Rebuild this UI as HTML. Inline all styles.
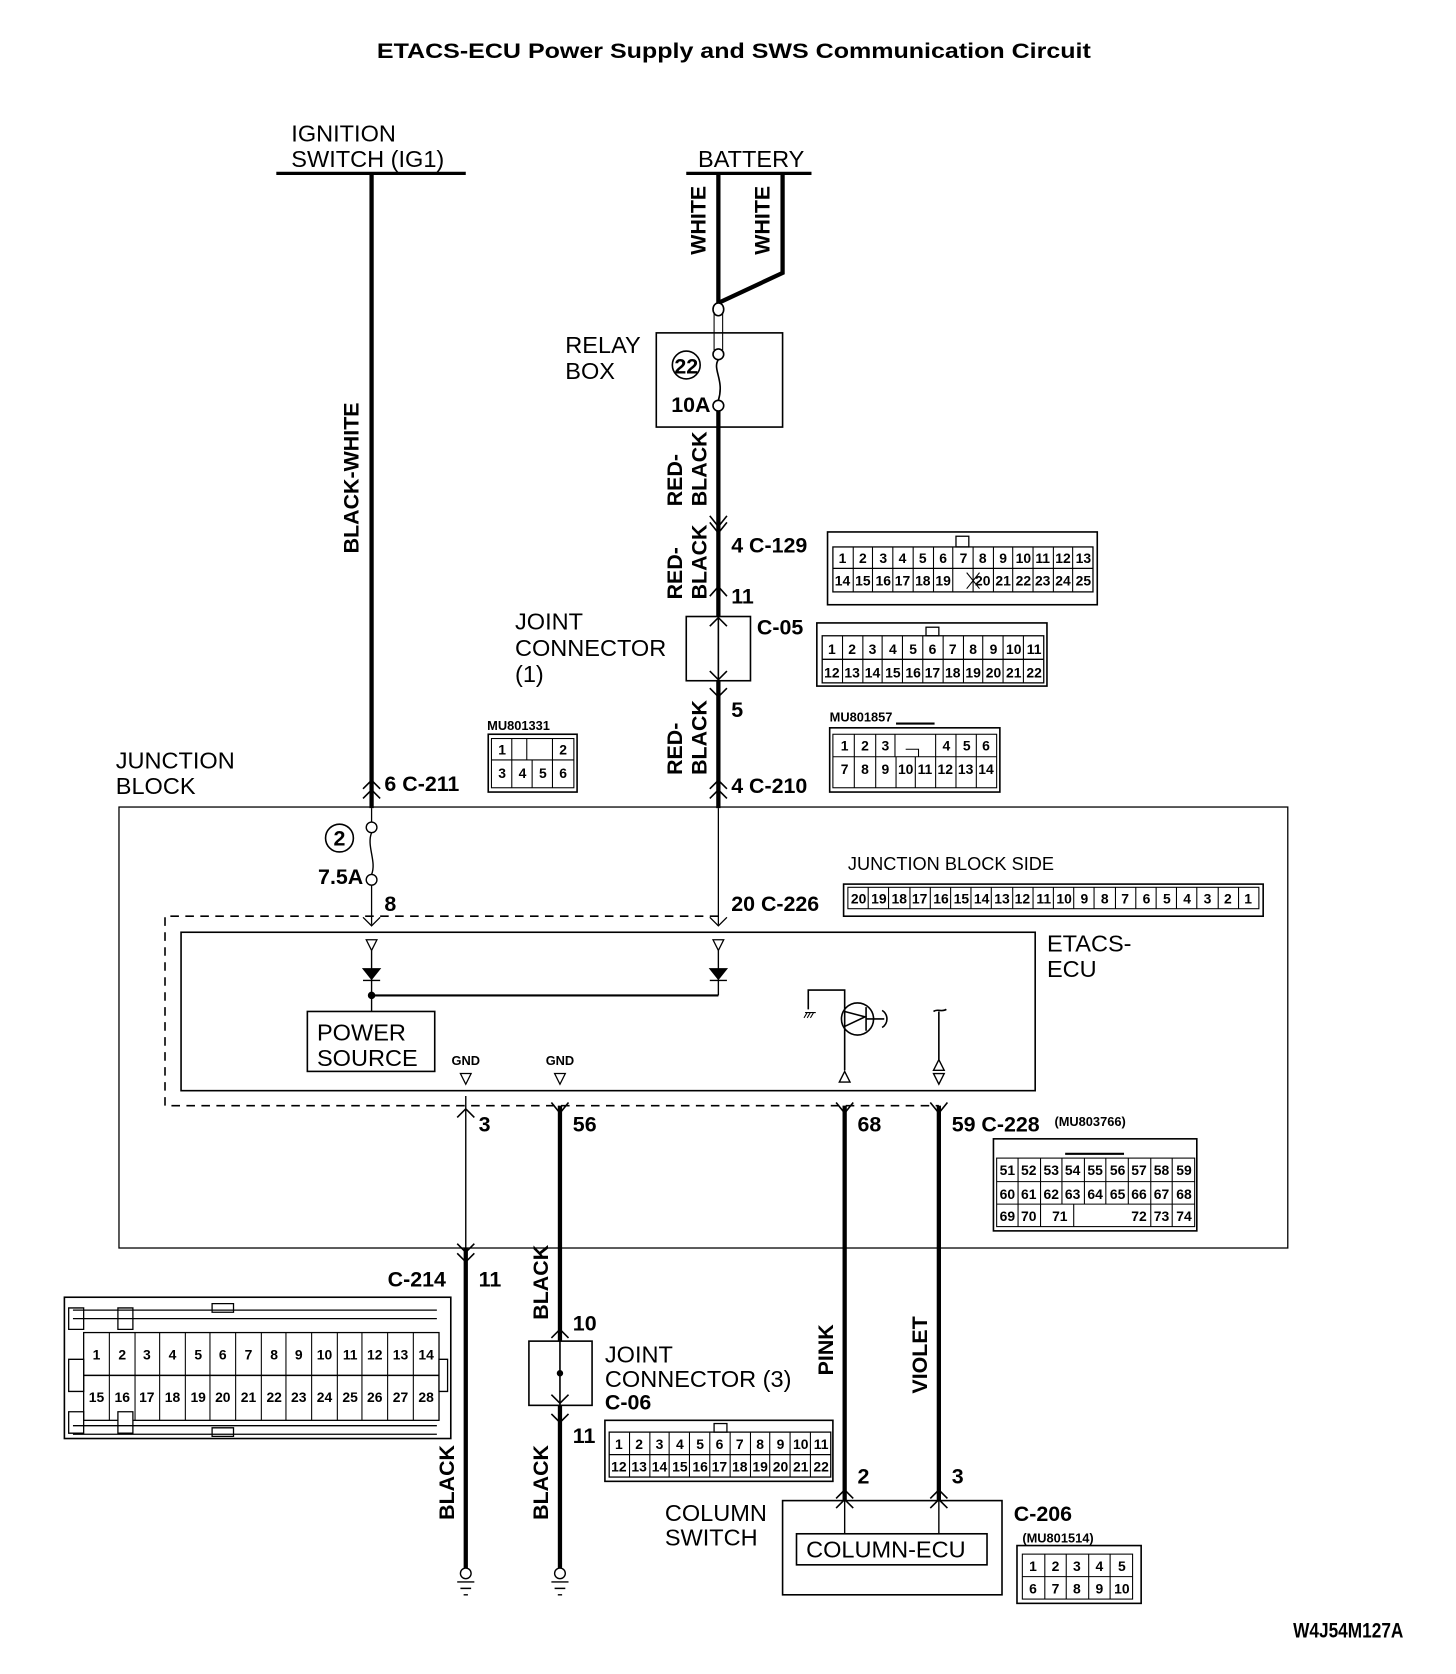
<!DOCTYPE html>
<html><head><meta charset="utf-8"><style>
html,body{margin:0;padding:0;background:#fff}
svg{display:block}
text{font-family:"Liberation Sans",sans-serif;fill:#000}
.l{font-size:22px}
.b{font-size:20px;font-weight:bold}
.n{font-size:13px;font-weight:bold;text-anchor:middle}
.s{font-size:12px;font-weight:bold}
</style></head><body>
<svg width="1456" height="1674" viewBox="0 0 1360 1564" xmlns="http://www.w3.org/2000/svg">
<g fill="none" stroke="#000">
<line x1="258" y1="162" x2="435" y2="162" stroke-width="3"/>
<line x1="641" y1="162" x2="758" y2="162" stroke-width="3"/>
<line x1="347" y1="162" x2="347" y2="755" stroke-width="4"/>
<line x1="671" y1="162" x2="671" y2="285" stroke-width="4"/>
<polyline points="731,162 731,255 671,283" stroke-width="4"/>
<rect x="613" y="311" width="118" height="88" stroke-width="1.5"/>
<ellipse cx="671" cy="289" rx="5" ry="6" stroke-width="1.5" fill="#fff"/>
<line x1="667" y1="292" x2="667" y2="327" stroke-width="1"/>
<line x1="675" y1="292" x2="675" y2="327" stroke-width="1"/>
<circle cx="671" cy="331" r="5" stroke-width="1.5"/>
<path d="M671,336 C665,345 677,355 671,374" stroke-width="1.5"/>
<circle cx="671" cy="379" r="5" stroke-width="1.5"/>
<circle cx="641" cy="341" r="13" stroke-width="1.5"/>
<line x1="671" y1="384" x2="671" y2="755" stroke-width="4"/>
<path d="M663,482 L671,492 L679,482 M663,488 L671,498 L679,488" stroke-width="1.5"/>
<path d="M663,557 L671,548 L679,557" stroke-width="1.5"/>
<rect x="641" y="576" width="60" height="60" stroke-width="1.5" fill="#fff"/>
<line x1="671" y1="576" x2="671" y2="636" stroke-width="1.5"/>
<path d="M663,585 L671,577 L679,585 M663,627 L671,635 L679,627 M663,643 L671,651 L679,643" stroke-width="1.5"/>
<path d="M339,737 L347,729 L355,737 M339,746 L347,738 L355,746" stroke-width="1.5"/>
<path d="M663,737 L671,729 L679,737 M663,746 L671,738 L679,746" stroke-width="1.5"/>
<rect x="111" y="754" width="1092" height="412" stroke-width="1.2"/>
<line x1="347" y1="755" x2="347" y2="768" stroke-width="1.2"/>
<circle cx="347" cy="773" r="5" stroke-width="1.3"/>
<path d="M347,778 C342,790 352,805 347,817" stroke-width="1.3"/>
<circle cx="347" cy="822" r="5" stroke-width="1.3"/>
<line x1="347" y1="827" x2="347" y2="864" stroke-width="1.2"/>
<line x1="671" y1="755" x2="671" y2="864" stroke-width="1.2"/>
<path d="M339,857 L347,865 L355,857 M663,857 L671,865 L679,857" stroke-width="1.2"/>
<circle cx="317" cy="783" r="13" stroke-width="1.5"/>
<path d="M671,856 L154,856 L154,1033 L877,1033" stroke-width="1.5" stroke-dasharray="8,6"/>
<rect x="169" y="871" width="798" height="148" stroke-width="1.5"/>
<path d="M342,878 L352,878 L347,888 Z M666,878 L676,878 L671,888 Z" stroke-width="1.2"/>
<line x1="347" y1="888" x2="347" y2="945" stroke-width="1.3"/>
<line x1="671" y1="888" x2="671" y2="930" stroke-width="1.3"/>
<path d="M339,905 L355,905 L347,915 Z M663,905 L679,905 L671,915 Z" fill="#000" stroke-width="1"/>
<path d="M339,916 L355,916 M663,916 L679,916" stroke-width="1.2"/>
<line x1="347" y1="930" x2="671" y2="930" stroke-width="2"/>
<circle cx="347" cy="930" r="3" fill="#000"/>
<rect x="287" y="945" width="119" height="56" stroke-width="1.5"/>
<path d="M430,1003 L440,1003 L435,1013 Z M518,1003 L528,1003 L523,1013 Z" stroke-width="1.2"/>
<polyline points="755,943 755,925 789,925 789,1000" stroke-width="1.5"/>
<circle cx="801" cy="952" r="15" stroke-width="1.5"/>
<path d="M789,945 L808,950 L789,959 M809,941 L809,963 M809,952 L826,952 M824,944 C830,948 830,956 824,960" stroke-width="1.5"/>
<path d="M752,946 L762,946 M754,946 L751,951 M757,946 L754,951 M760,946 L757,951" stroke-width="1"/>
<path d="M784,1011 L794,1011 L789,1001 Z" stroke-width="1.3"/>
<path d="M872,945 C876,942 880,946 884,943 M877,945 L877,990" stroke-width="1.5"/>
<path d="M872,1000 L882,1000 L877,990 Z M872,1003 L882,1003 L877,1013 Z" stroke-width="1.3"/>
<line x1="435" y1="1024" x2="435" y2="1470" stroke-width="1.3"/>
<line x1="435" y1="1166" x2="435" y2="1470" stroke-width="4"/>
<line x1="523" y1="1033" x2="523" y2="1470" stroke-width="4"/>
<line x1="789" y1="1033" x2="789" y2="1402" stroke-width="4"/>
<line x1="877" y1="1033" x2="877" y2="1402" stroke-width="4"/>
<path d="M427,1044 L435,1036 L443,1044 M515,1030 L523,1040 L531,1030 M781,1030 L789,1040 L797,1030 M869,1030 L877,1040 L885,1030" stroke-width="1.5"/>
<path d="M427,1162 L435,1170 L443,1162 M427,1171 L435,1179 L443,1171" stroke-width="1.5"/>
<rect x="494" y="1253" width="59" height="60" stroke-width="1.5" fill="#fff"/>
<line x1="523" y1="1240" x2="523" y2="1330" stroke-width="1.5"/>
<circle cx="523" cy="1283" r="2.5" fill="#000"/>
<path d="M515,1250 L523,1242 L531,1250 M515,1303 L523,1311 L531,1303 M515,1321 L523,1329 L531,1321" stroke-width="1.5"/>
<path d="M781,1400 L789,1392 L797,1400 M781,1409 L789,1401 L797,1409 M869,1400 L877,1392 L885,1400 M869,1409 L877,1401 L885,1409" stroke-width="1.5"/>
<rect x="731" y="1402" width="205" height="88" stroke-width="1.5"/>
<rect x="744" y="1433" width="178" height="29" stroke-width="1.5"/>
<line x1="789" y1="1402" x2="789" y2="1433" stroke-width="1.3"/>
<line x1="877" y1="1402" x2="877" y2="1433" stroke-width="1.3"/>
<g stroke-width="1.3">
<circle cx="435" cy="1470" r="5" fill="#fff"/><path d="M427,1478 L443,1478 M430,1484 L440,1484 M433,1490 L437,1490"/>
<circle cx="523" cy="1470" r="5" fill="#fff"/><path d="M515,1478 L531,1478 M518,1484 L528,1484 M521,1490 L525,1490"/>
</g>
<rect x="773" y="497" width="252" height="68" stroke-width="1.5"/>
<rect x="778" y="511" width="243" height="42" stroke-width="1.2"/>
<line x1="778" y1="531" x2="1021" y2="531" stroke-width="1.2"/>
<rect x="893" y="501" width="12" height="10" stroke-width="1.2"/>
<path d="M797,511v42M815,511v42M834,511v42M853,511v42M872,511v42M890,511v42M909,511v42M928,511v42M946,511v42M965,511v42M984,511v42M1002,511v42" stroke-width="1"/>
<path d="M903,535 L915,550 M915,535 L903,550" stroke-width="1"/>
<rect x="763" y="582" width="215" height="59" stroke-width="1.5"/>
<rect x="768" y="594" width="207" height="44" stroke-width="1.2"/>
<line x1="768" y1="616" x2="975" y2="616" stroke-width="1.2"/>
<rect x="865" y="586" width="12" height="8" stroke-width="1.2"/>
<path d="M787,594v44M806,594v44M824,594v44M843,594v44M862,594v44M881,594v44M900,594v44M918,594v44M937,594v44M956,594v44" stroke-width="1"/>
<rect x="456" y="686" width="83" height="54" stroke-width="1.5"/>
<rect x="459" y="690" width="77" height="46" stroke-width="1"/>
<line x1="459" y1="710" x2="536" y2="710" stroke-width="1"/>
<path d="M478,690v46M497,710v26M516,690v46M492,690v20" stroke-width="1"/>
<rect x="775" y="680" width="159" height="60" stroke-width="1.5"/>
<rect x="778" y="686" width="153" height="50" stroke-width="1"/>
<line x1="778" y1="707" x2="931" y2="707" stroke-width="1"/>
<path d="M798,686v50M818,686v50M837,707v29M855,707v29M874,686v50M893,686v50M912,686v50M836,686v21M846,700h12v7" stroke-width="1"/>
<path d="M837,676h36" stroke-width="2"/>
<rect x="788" y="826" width="392" height="30" stroke-width="1.5"/>
<rect x="792" y="829" width="384" height="20" stroke-width="1"/>
<path d="M811,829v20M830,829v20M850,829v20M869,829v20M888,829v20M907,829v20M926,829v20M946,829v20M965,829v20M984,829v20M1003,829v20M1022,829v20M1042,829v20M1061,829v20M1080,829v20M1099,829v20M1118,829v20M1138,829v20M1157,829v20" stroke-width="1"/>
<rect x="928" y="1064" width="190" height="86" stroke-width="1.5"/>
<rect x="931" y="1082" width="185" height="64" stroke-width="1"/>
<path d="M931,1104h185M931,1125h185" stroke-width="1"/>
<path d="M951,1082v64M972,1082v64M992,1082v43M1013,1082v43M1033,1082v43M1054,1082v43M1075,1082v64M1095,1082v64M1003,1125v21" stroke-width="1"/>
<path d="M995,1078h55" stroke-width="2"/>
<rect x="60" y="1212" width="361" height="132" stroke-width="1.5"/>
<rect x="78" y="1245" width="332" height="82" stroke-width="1.2"/>
<line x1="78" y1="1285" x2="410" y2="1285" stroke-width="1.5"/>
<path d="M102,1245v82M126,1245v82M149,1245v82M173,1245v82M196,1245v82M220,1245v82M244,1245v82M267,1245v82M291,1245v82M315,1245v82M338,1245v82M362,1245v82M386,1245v82" stroke-width="1"/>
<path d="M68,1224h340M68,1232h340M68,1332h340M68,1340h340M64,1222h14v20h-14zM64,1270h14v30h-14zM64,1319h14v20h-14zM110,1222h14v20h-14zM110,1319h14v20h-14zM198,1218h20v8h-20zM198,1334h20v8h-20zM410,1270h8v30h-8z" stroke-width="1.2" fill="#fff"/>
<rect x="565" y="1327" width="213" height="57" stroke-width="1.5"/>
<rect x="569" y="1338" width="207" height="42" stroke-width="1.2"/>
<line x1="569" y1="1359" x2="776" y2="1359" stroke-width="1.2"/>
<rect x="667" y="1330" width="12" height="8" stroke-width="1.2"/>
<path d="M588,1338v42M607,1338v42M625,1338v42M644,1338v42M663,1338v42M682,1338v42M701,1338v42M719,1338v42M738,1338v42M757,1338v42" stroke-width="1"/>
<rect x="950" y="1444" width="116" height="54" stroke-width="1.5"/>
<rect x="955" y="1452" width="103" height="42" stroke-width="1"/>
<line x1="955" y1="1473" x2="1058" y2="1473" stroke-width="1"/>
<path d="M976,1452v42M996,1452v42M1017,1452v42M1037,1452v42" stroke-width="1"/>
</g>
<text x="352" y="54" class="b" font-size="22" textLength="667" lengthAdjust="spacingAndGlyphs">ETACS-ECU Power Supply and SWS Communication Circuit</text>
<text x="272" y="132" class="l">IGNITION</text>
<text x="272" y="156" class="l">SWITCH (IG1)</text>
<text x="652" y="156" class="l">BATTERY</text>
<text transform="translate(659,238) rotate(-90)" class="b">WHITE</text>
<text transform="translate(719,238) rotate(-90)" class="b">WHITE</text>
<text transform="translate(335,517) rotate(-90)" class="b">BLACK-WHITE</text>
<text x="528" y="330" class="l">RELAY</text>
<text x="528" y="354" class="l">BOX</text>
<text x="641" y="349" class="b" text-anchor="middle" font-size="18">22</text>
<text x="627" y="385" class="b" font-size="18">10A</text>
<text transform="translate(637,473) rotate(-90)" class="b">RED-</text>
<text transform="translate(660,473) rotate(-90)" class="b">BLACK</text>
<text transform="translate(637,560) rotate(-90)" class="b">RED-</text>
<text transform="translate(660,560) rotate(-90)" class="b">BLACK</text>
<text transform="translate(637,724) rotate(-90)" class="b">RED-</text>
<text transform="translate(660,724) rotate(-90)" class="b">BLACK</text>
<text x="683" y="516" class="b">4  C-129</text>
<text x="683" y="564" class="b">11</text>
<text x="707" y="593" class="b">C-05</text>
<text x="683" y="670" class="b">5</text>
<text x="683" y="741" class="b">4  C-210</text>
<text x="359" y="739" class="b">6  C-211</text>
<text x="481" y="588" class="l">JOINT</text>
<text x="481" y="613" class="l">CONNECTOR</text>
<text x="481" y="637" class="l">(1)</text>
<text x="108" y="718" class="l">JUNCTION</text>
<text x="108" y="742" class="l">BLOCK</text>
<text x="317" y="790" class="b" text-anchor="middle" font-size="18">2</text>
<text x="297" y="826" class="b" font-size="18">7.5A</text>
<text x="359" y="851" class="b">8</text>
<text x="683" y="851" class="b">20  C-226</text>
<text x="792" y="813" font-size="17">JUNCTION BLOCK SIDE</text>
<text x="978" y="889" class="l">ETACS-</text>
<text x="978" y="913" class="l">ECU</text>
<text x="296" y="972" class="l">POWER</text>
<text x="296" y="996" class="l">SOURCE</text>
<text x="435" y="995" class="s" text-anchor="middle" font-size="15">GND</text>
<text x="523" y="995" class="s" text-anchor="middle" font-size="15">GND</text>
<text x="447" y="1057" class="b">3</text>
<text x="535" y="1057" class="b">56</text>
<text x="801" y="1057" class="b">68</text>
<text x="889" y="1057" class="b">59  C-228</text>
<text x="985" y="1052" class="s">(MU803766)</text>
<text x="362" y="1202" class="b">C-214</text>
<text x="447" y="1202" class="b">11</text>
<text transform="translate(512,1233) rotate(-90)" class="b">BLACK</text>
<text transform="translate(424,1420) rotate(-90)" class="b">BLACK</text>
<text transform="translate(512,1420) rotate(-90)" class="b">BLACK</text>
<text transform="translate(778,1285) rotate(-90)" class="b">PINK</text>
<text transform="translate(866,1302) rotate(-90)" class="b">VIOLET</text>
<text x="535" y="1243" class="b">10</text>
<text x="535" y="1348" class="b">11</text>
<text x="565" y="1273" class="l">JOINT</text>
<text x="565" y="1296" class="l">CONNECTOR (3)</text>
<text x="565" y="1317" class="b">C-06</text>
<text x="801" y="1386" class="b">2</text>
<text x="889" y="1386" class="b">3</text>
<text x="621" y="1421" class="l">COLUMN</text>
<text x="621" y="1444" class="l">SWITCH</text>
<text x="753" y="1455" class="l">COLUMN-ECU</text>
<text x="947" y="1421" class="b">C-206</text>
<text x="955" y="1441" class="s">(MU801514)</text>
<text x="1208" y="1530" class="b" font-size="18" textLength="103" lengthAdjust="spacingAndGlyphs">W4J54M127A</text>
<text x="455" y="682" class="s">MU801331</text>
<text x="775" y="674" class="s">MU801857</text>
<g class="n">
<text x="787" y="526">1</text><text x="806" y="526">2</text><text x="825" y="526">3</text><text x="843" y="526">4</text><text x="862" y="526">5</text><text x="881" y="526">6</text><text x="900" y="526">7</text><text x="918" y="526">8</text><text x="937" y="526">9</text><text x="956" y="526">10</text><text x="974" y="526">11</text><text x="993" y="526">12</text><text x="1012" y="526">13</text>
<text x="787" y="547">14</text><text x="806" y="547">15</text><text x="825" y="547">16</text><text x="843" y="547">17</text><text x="862" y="547">18</text><text x="881" y="547">19</text><text x="918" y="547">20</text><text x="937" y="547">21</text><text x="956" y="547">22</text><text x="974" y="547">23</text><text x="993" y="547">24</text><text x="1012" y="547">25</text>
<text x="777" y="611">1</text><text x="796" y="611">2</text><text x="815" y="611">3</text><text x="834" y="611">4</text><text x="853" y="611">5</text><text x="871" y="611">6</text><text x="890" y="611">7</text><text x="909" y="611">8</text><text x="928" y="611">9</text><text x="947" y="611">10</text><text x="966" y="611">11</text>
<text x="777" y="633">12</text><text x="796" y="633">13</text><text x="815" y="633">14</text><text x="834" y="633">15</text><text x="853" y="633">16</text><text x="871" y="633">17</text><text x="890" y="633">18</text><text x="909" y="633">19</text><text x="928" y="633">20</text><text x="947" y="633">21</text><text x="966" y="633">22</text>
<text x="469" y="705">1</text><text x="526" y="705">2</text>
<text x="469" y="727">3</text><text x="488" y="727">4</text><text x="507" y="727">5</text><text x="526" y="727">6</text>
<text x="789" y="701">1</text><text x="808" y="701">2</text><text x="827" y="701">3</text><text x="884" y="701">4</text><text x="903" y="701">5</text><text x="921" y="701">6</text>
<text x="789" y="723">7</text><text x="808" y="723">8</text><text x="827" y="723">9</text><text x="846" y="723">10</text><text x="864" y="723">11</text><text x="883" y="723">12</text><text x="902" y="723">13</text><text x="921" y="723">14</text>
<text x="802" y="844">20</text><text x="821" y="844">19</text><text x="840" y="844">18</text><text x="859" y="844">17</text><text x="879" y="844">16</text><text x="898" y="844">15</text><text x="917" y="844">14</text><text x="936" y="844">13</text><text x="955" y="844">12</text><text x="975" y="844">11</text><text x="994" y="844">10</text><text x="1013" y="844">9</text><text x="1032" y="844">8</text><text x="1051" y="844">7</text><text x="1071" y="844">6</text><text x="1090" y="844">5</text><text x="1109" y="844">4</text><text x="1128" y="844">3</text><text x="1147" y="844">2</text><text x="1166" y="844">1</text>
<text x="941" y="1098">51</text><text x="961" y="1098">52</text><text x="982" y="1098">53</text><text x="1002" y="1098">54</text><text x="1023" y="1098">55</text><text x="1044" y="1098">56</text><text x="1064" y="1098">57</text><text x="1085" y="1098">58</text><text x="1106" y="1098">59</text>
<text x="941" y="1120">60</text><text x="961" y="1120">61</text><text x="982" y="1120">62</text><text x="1002" y="1120">63</text><text x="1023" y="1120">64</text><text x="1044" y="1120">65</text><text x="1064" y="1120">66</text><text x="1085" y="1120">67</text><text x="1106" y="1120">68</text>
<text x="941" y="1141">69</text><text x="961" y="1141">70</text><text x="990" y="1141">71</text><text x="1064" y="1141">72</text><text x="1085" y="1141">73</text><text x="1106" y="1141">74</text>
<text x="90" y="1270">1</text><text x="114" y="1270">2</text><text x="137" y="1270">3</text><text x="161" y="1270">4</text><text x="185" y="1270">5</text><text x="208" y="1270">6</text><text x="232" y="1270">7</text><text x="256" y="1270">8</text><text x="279" y="1270">9</text><text x="303" y="1270">10</text><text x="327" y="1270">11</text><text x="350" y="1270">12</text><text x="374" y="1270">13</text><text x="398" y="1270">14</text>
<text x="90" y="1310">15</text><text x="114" y="1310">16</text><text x="137" y="1310">17</text><text x="161" y="1310">18</text><text x="185" y="1310">19</text><text x="208" y="1310">20</text><text x="232" y="1310">21</text><text x="256" y="1310">22</text><text x="279" y="1310">23</text><text x="303" y="1310">24</text><text x="327" y="1310">25</text><text x="350" y="1310">26</text><text x="374" y="1310">27</text><text x="398" y="1310">28</text>
<text x="578" y="1354">1</text><text x="597" y="1354">2</text><text x="616" y="1354">3</text><text x="635" y="1354">4</text><text x="654" y="1354">5</text><text x="672" y="1354">6</text><text x="691" y="1354">7</text><text x="710" y="1354">8</text><text x="729" y="1354">9</text><text x="748" y="1354">10</text><text x="767" y="1354">11</text>
<text x="578" y="1375">12</text><text x="597" y="1375">13</text><text x="616" y="1375">14</text><text x="635" y="1375">15</text><text x="654" y="1375">16</text><text x="672" y="1375">17</text><text x="691" y="1375">18</text><text x="710" y="1375">19</text><text x="729" y="1375">20</text><text x="748" y="1375">21</text><text x="767" y="1375">22</text>
<text x="965" y="1468">1</text><text x="986" y="1468">2</text><text x="1006" y="1468">3</text><text x="1027" y="1468">4</text><text x="1048" y="1468">5</text>
<text x="965" y="1489">6</text><text x="986" y="1489">7</text><text x="1006" y="1489">8</text><text x="1027" y="1489">9</text><text x="1048" y="1489">10</text>
</g>
</svg>
</body></html>
